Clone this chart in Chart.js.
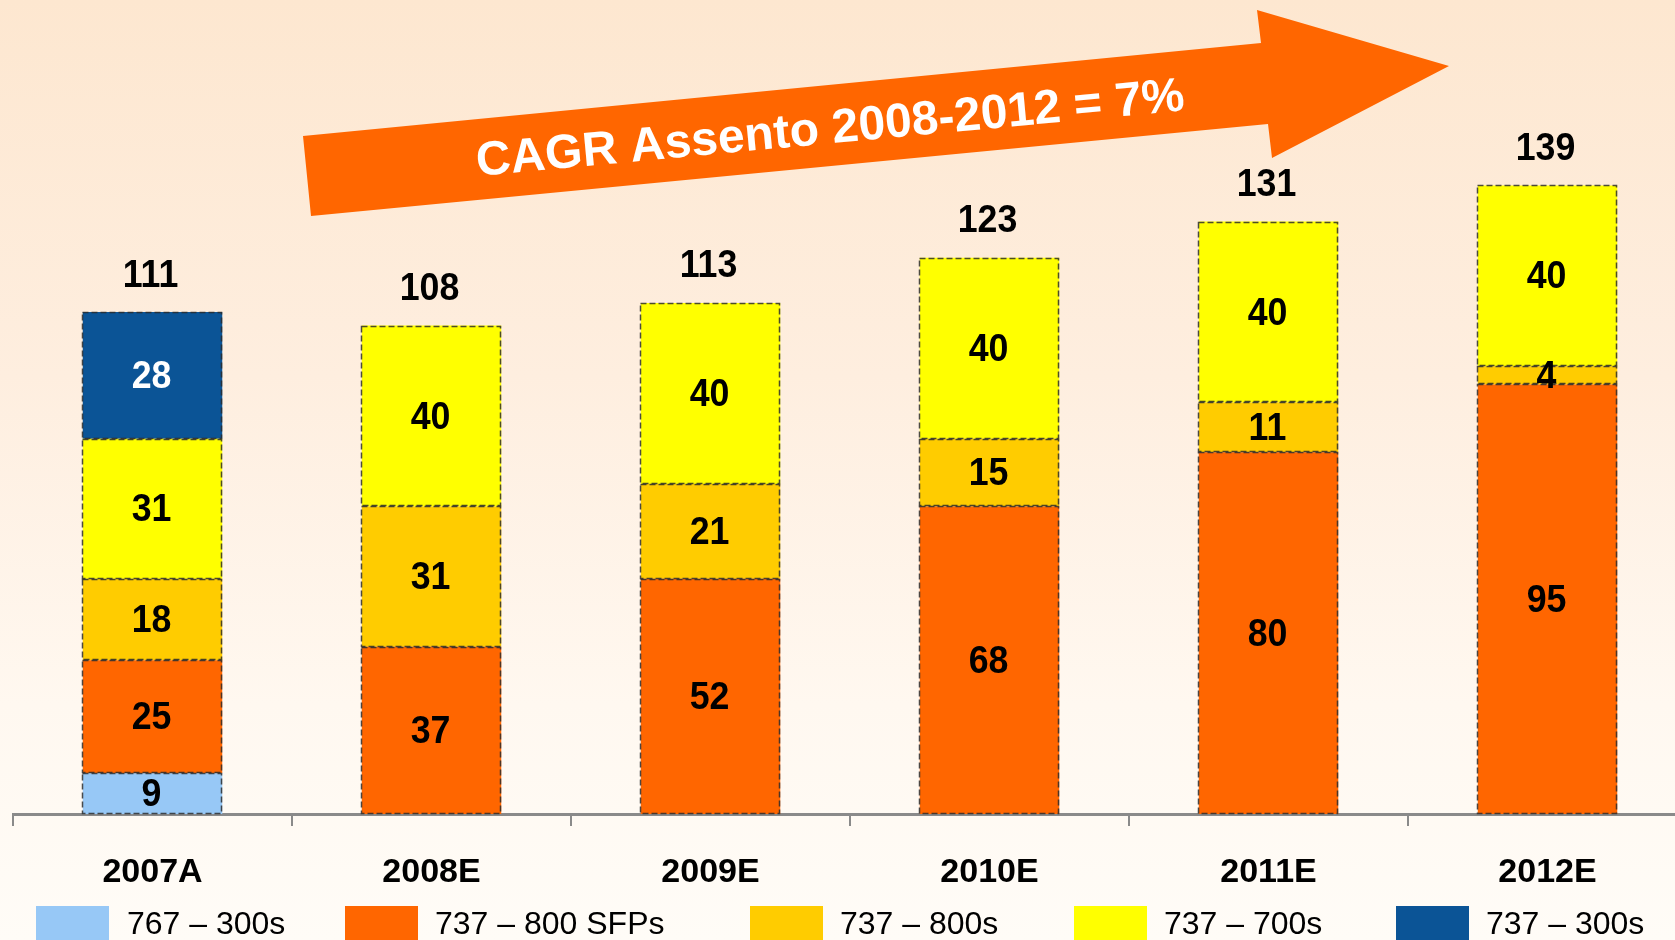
<!DOCTYPE html>
<html><head><meta charset="utf-8">
<script src="https://cdn.jsdelivr.net/npm/chart.js@4.4.1/dist/chart.umd.min.js"></script>
<style>
html,body{margin:0;padding:0;overflow:hidden;width:1675px;height:940px;
background:linear-gradient(to bottom,#fde7d0 0%,#feeedf 40%,#fff8f0 75%,#fffcf7 100%);}
#wrap{position:absolute;left:0;top:0;width:1700px;height:940px;}
</style></head><body>
<div id="wrap"><canvas id="c" width="1700" height="940"></canvas></div>
<script>
const categories = ['2007A','2008E','2009E','2010E','2011E','2012E'];
const seriesNames = ['767 – 300s','737 – 800 SFPs','737 – 800s','737 – 700s','737 – 300s'];
const s767_300    = [9, null, null, null, null, null];
const s737_800SFP = [25, 37, 52, 68, 80, 95];
const s737_800    = [18, 31, 21, 15, 11, 4];
const s737_700    = [31, 40, 40, 40, 40, 40];
const s737_300    = [28, null, null, null, null, null];
const cagrText = 'CAGR Assento 2008-2012 = 7%';

const colors = ['#97C8F6','#FF6600','#FFCC00','#FFFF00','#0B5496'];
const labelColors = ['#000','#000','#000','#000','#fff'];
const seriesData = [s767_300, s737_800SFP, s737_800, s737_700, s737_300];
const FONT = '"Liberation Sans", Arial, sans-serif';

const datasets = seriesData.map((d, i) => ({
  label: seriesNames[i], data: d, backgroundColor: colors[i],
  borderWidth: 0, barPercentage: 0.5, categoryPercentage: 1.0
}));

function tallText(ctx, s, x, y) {
  ctx.save();
  ctx.translate(x, y);
  ctx.scale(0.94, 1.0);
  ctx.fillText(s, 0, 0);
  ctx.restore();
}

const decor = {
  id: 'decor',
  afterDatasetsDraw(chart) {
    const ctx = chart.ctx;
    ctx.save();
    ctx.setLineDash([6, 3]);
    ctx.lineWidth = 1.5;
    ctx.strokeStyle = 'rgba(45,45,45,0.85)';
    chart.data.datasets.forEach((ds, di) => {
      const meta = chart.getDatasetMeta(di);
      meta.data.forEach((bar, j) => {
        if (ds.data[j] == null) return;
        const p = bar.getProps(['x','y','base','width'], true);
        const l = Math.round(p.x - p.width/2) - 0.5, r = Math.round(p.x + p.width/2) - 0.5;
        const t = Math.round(p.y) + 0.5, b = Math.round(p.base) - 0.5;
        ctx.strokeRect(l, t, r - l, b - t);
      });
    });
    ctx.restore();
    ctx.save();
    ctx.font = 'bold 38px ' + FONT;
    ctx.textAlign = 'center';
    ctx.textBaseline = 'middle';
    chart.data.datasets.forEach((ds, di) => {
      const meta = chart.getDatasetMeta(di);
      meta.data.forEach((bar, j) => {
        const v = ds.data[j];
        if (v == null) return;
        const p = bar.getProps(['x','y','base'], true);
        ctx.fillStyle = labelColors[di];
        tallText(ctx, String(v), p.x - 1, (p.y + p.base)/2 + 2);
      });
    });
    ctx.fillStyle = '#000';
    chart.data.labels.forEach((c, j) => {
      let total = 0;
      chart.data.datasets.forEach(ds => { total += ds.data[j] || 0; });
      const ys = chart.scales.y.getPixelForValue(total);
      const xs = chart.scales.x.getPixelForValue(j);
      tallText(ctx, String(total), xs - 2, ys - 36);
    });
    ctx.restore();
  },
  afterDraw(chart) {
    const ctx = chart.ctx;
    ctx.save();
    ctx.fillStyle = '#FF6600';
    ctx.beginPath();
    const pts = [[303,136],[1261,43],[1257,10],[1449,66],[1272,158],[1268,124],[311,216]];
    ctx.moveTo(pts[0][0], pts[0][1]);
    for (let i = 1; i < pts.length; i++) ctx.lineTo(pts[i][0], pts[i][1]);
    ctx.closePath();
    ctx.fill();
    ctx.translate(830, 127);
    ctx.rotate(-5.3 * Math.PI / 180);
    ctx.fillStyle = '#fff';
    ctx.font = 'bold 48px ' + FONT;
    ctx.textAlign = 'center';
    ctx.textBaseline = 'middle';
    ctx.fillText(cagrText, 0, 3);
    ctx.restore();
    const lx = [36, 345, 750, 1074, 1396];
    const tx = [127, 435, 840, 1164, 1486];
    ctx.save();
    ctx.font = '32px ' + FONT;
    ctx.textBaseline = 'alphabetic';
    ctx.textAlign = 'left';
    chart.data.datasets.forEach((ds, i) => {
      ctx.fillStyle = ds.backgroundColor;
      ctx.fillRect(lx[i], 906, 73, 34);
      ctx.fillStyle = '#000';
      ctx.fillText(ds.label, tx[i], 934);
    });
    ctx.restore();
  }
};

new Chart(document.getElementById('c'), {
  type: 'bar',
  data: { labels: categories, datasets },
  options: {
    responsive: false, animation: false, devicePixelRatio: 1,
    layout: { padding: { left: 13, right: 13, top: 0, bottom: 0 } },
    plugins: { legend: { display: false }, tooltip: { enabled: false }, title: { display: false } },
    scales: {
      x: {
        stacked: true,
        grid: { drawOnChartArea: false, drawTicks: true, tickLength: 12, color: '#8a8a8a', lineWidth: 2, offset: true },
        border: { display: true, color: '#8a8a8a', width: 3 },
        ticks: { color: '#000', font: { family: FONT, size: 34, weight: 'bold' }, padding: 26, maxRotation: 0, autoSkip: false },
        afterFit(scale) { scale.height = 126; }
      },
      y: { stacked: true, display: false, min: 0, max: 180 }
    }
  },
  plugins: [decor]
});
</script>
</body></html>
